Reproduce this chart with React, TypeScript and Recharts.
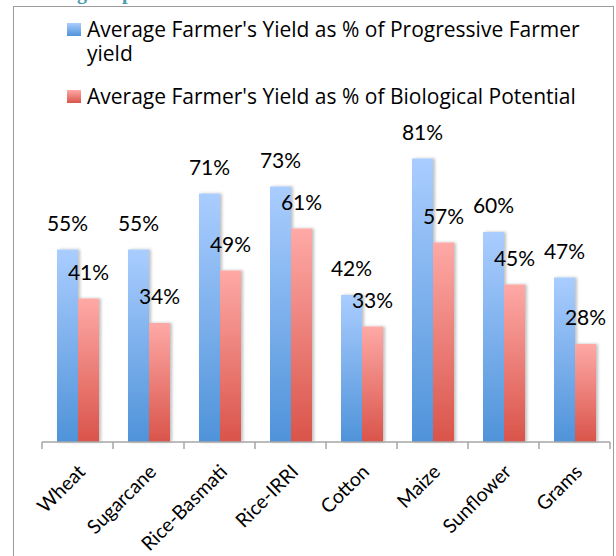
import { BarChart, Bar, XAxis, YAxis, LabelList, Legend } from 'recharts';

const CROPS = ['Wheat', 'Sugarcane', 'Rice-Basmati', 'Rice-IRRI', 'Cotton', 'Maize', 'Sunflower', 'Grams'];
const VS_PROGRESSIVE = [55, 55, 71, 73, 42, 81, 60, 47];
const VS_BIOLOGICAL = [41, 34, 49, 61, 33, 57, 45, 28];
const SERIES_NAMES = [
  "Average Farmer's Yield as % of Progressive Farmer yield",
  "Average Farmer's Yield as % of Biological Potential",
];

const data = CROPS.map((crop, i) => ({
  crop,
  progressive: VS_PROGRESSIVE[i],
  biological: VS_BIOLOGICAL[i],
}));

const FONT = 'Lato, "Open Sans", sans-serif';
const AXIS = '#a6a6a6';
const BAND = 71;

const CropTick = (props: any) => {
  const { x, y, payload, index } = props;
  return (
    <g>
      <line x1={x - BAND / 2} y1={y} x2={x - BAND / 2} y2={y + 7} stroke={AXIS} strokeWidth={1.5} />
      {index === CROPS.length - 1 && (
        <line x1={x + BAND / 2} y1={y} x2={x + BAND / 2} y2={y + 7} stroke={AXIS} strokeWidth={1.5} />
      )}
      <text
        x={x + 9}
        y={y + 31}
        transform={`rotate(-45, ${x + 9}, ${y + 31})`}
        textAnchor="end"
        fontSize={19.5}
        fontFamily={FONT}
        fill="#000"
      >
        {payload.value}
      </text>
    </g>
  );
};

const LegendBox = () => (
  <div style={{ fontFamily: '"Open Sans", sans-serif', fontSize: 21, color: '#000', lineHeight: '24px' }}>
    {SERIES_NAMES.map((name, i) => (
      <div key={name} style={{ display: 'flex', alignItems: 'flex-start', marginBottom: 19 }}>
        <div
          style={{
            width: 14,
            height: 13,
            marginTop: 6,
            marginRight: 6,
            flexShrink: 0,
            background: i === 0
              ? 'linear-gradient(#aacdff, #4f93d9)'
              : 'linear-gradient(#fea9a6, #d9544a)',
          }}
        />
        <div style={{ width: 500 }}>{name}</div>
      </div>
    ))}
  </div>
);

export default function App() {
  return (
    <div style={{ position: 'absolute', left: 0, top: 0, width: 616, height: 556, overflow: 'hidden', background: '#fff', fontFamily: FONT }}>
      <div
        style={{
          position: 'absolute',
          left: 13,
          top: -19,
          fontFamily: '"Liberation Serif", serif',
          fontWeight: 'bold',
          fontSize: 20,
          color: '#4a9ab3',
          whiteSpace: 'nowrap',
        }}
      >
        of biological potential
      </div>
      <div
        style={{
          position: 'absolute',
          left: 13,
          top: 6,
          width: 599,
          height: 600,
          border: '1.5px solid #9c9c9c',
        }}
      />
      <div style={{ position: 'absolute', left: 0, top: 0 }}>
        <BarChart
          width={616}
          height={556}
          data={data}
          margin={{ top: 92, right: 6, left: 42, bottom: 0 }}
          barCategoryGap="20%"
          barGap={0}
        >
          <defs>
            <linearGradient id="gBlue" x1="0" y1="0" x2="0" y2="1">
              <stop offset="0%" stopColor="#aacdff" />
              <stop offset="100%" stopColor="#4f93d9" />
            </linearGradient>
            <linearGradient id="gRed" x1="0" y1="0" x2="0" y2="1">
              <stop offset="0%" stopColor="#fea9a6" />
              <stop offset="100%" stopColor="#d9544a" />
            </linearGradient>
            <filter id="shade" x="-20%" y="-10%" width="150%" height="120%">
              <feDropShadow dx="2" dy="0" stdDeviation="1.5" floodColor="#000" floodOpacity="0.25" />
            </filter>
          </defs>
          <XAxis
            dataKey="crop"
            height={114}
            interval={0}
            tickSize={0}
            tickMargin={0}
            tickLine={false}
            axisLine={{ stroke: AXIS, strokeWidth: 1.5 }}
            tick={<CropTick />}
          />
          <YAxis hide domain={[0, 100]} />
          <Legend
            layout="horizontal"
            verticalAlign="middle"
            align="center"
            content={<LegendBox />}
            wrapperStyle={{ position: 'absolute', top: 17, left: 67, width: 545 }}
          />
          <Bar dataKey="progressive" name={SERIES_NAMES[0]} fill="url(#gBlue)" barSize={21} filter="url(#shade)" isAnimationActive={false}>
            <LabelList dataKey="progressive" position="top" offset={19} formatter={(v: any) => `${v}%`} fontSize={21} fontFamily={FONT} fill="#000" />
          </Bar>
          <Bar dataKey="biological" name={SERIES_NAMES[1]} fill="url(#gRed)" barSize={21} filter="url(#shade)" isAnimationActive={false}>
            <LabelList dataKey="biological" position="top" offset={19} formatter={(v: any) => `${v}%`} fontSize={21} fontFamily={FONT} fill="#000" />
          </Bar>
        </BarChart>
      </div>
    </div>
  );
}
